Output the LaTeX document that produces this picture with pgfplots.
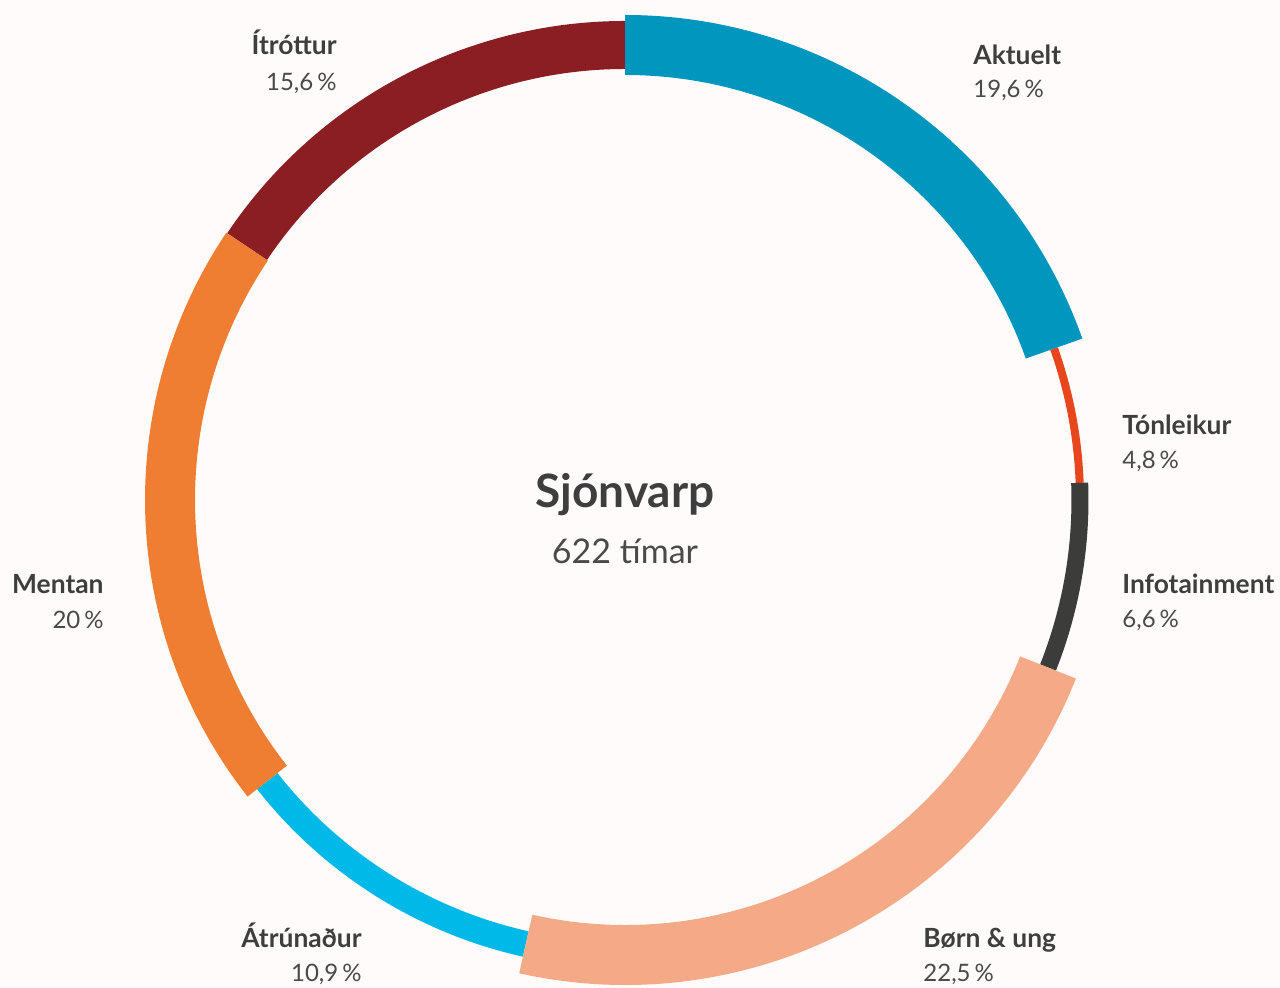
\documentclass[border=0pt]{standalone}
\usepackage{pgfplots}
\pgfplotsset{compat=1.18}
\usepackage{fontspec}
\setmainfont{Lato}
\definecolor{bg}{HTML}{FFFBFA}
\definecolor{txt}{HTML}{3E3E3E}
\definecolor{txtl}{HTML}{4A4A4A}
\definecolor{cAkt}{HTML}{0096BE}
\definecolor{cTon}{HTML}{E8461C}
\definecolor{cInf}{HTML}{3C3C3A}
\definecolor{cBorn}{HTML}{F4AA87}
\definecolor{cAtr}{HTML}{00B9E9}
\definecolor{cMen}{HTML}{EF7E32}
\definecolor{cItr}{HTML}{8B1E22}
% #1 colour, #2 cumulative start (percent), #3 share (percent), #4 ring width (axis units)
\newcommand\seg[4]{%
  \pgfmathsetmacro\aA{90-3.6*#2}%
  \pgfmathsetmacro\aB{90-3.6*(#2+#3)}%
  \pgfmathsetmacro\rO{(455+#4/2)*0.5}%
  \pgfmathsetmacro\rI{(455-#4/2)*0.5}%
  \pgfmathsetmacro\rW{#4*0.5}%
  \edef\tmp{\noexpand\fill[#1] (axis cs:625,488) ++(\aA:\rO pt)
    arc[start angle=\aA,end angle=\aB,radius=\rO pt]
    -- ++(\aB+180:\rW pt)
    arc[start angle=\aB,end angle=\aA,radius=\rI pt] -- cycle;}%
  \tmp}
\begin{document}
\begin{tikzpicture}
\begin{axis}[
  x=0.5pt, y=0.5pt,
  xmin=0, xmax=1280, ymin=0, ymax=988,
  hide axis, clip=false,
  scale only axis,
]
\fill[bg] (axis cs:0,0) rectangle (axis cs:1280,988);
\coordinate (BL) at (axis cs:0,0);
\coordinate (TR) at (axis cs:1280,988);
% shares: Aktuelt 19.6, Tonleikur 4.8, Infotainment 6.6, Born 22.5, Atrunadur 10.9, Mentan 20, Itrottur 15.6
\seg{cTon}{19.6}{4.8}{8}
\seg{cInf}{24.4}{6.6}{17}
\seg{cAtr}{53.5}{10.9}{26}
\seg{cItr}{84.4}{15.6}{48}
\seg{cMen}{64.4}{20}{50}
\seg{cAkt}{0}{19.6}{60}
\seg{cBorn}{31.0}{22.5}{60}
% centre
\node[overlay, anchor=base, font=\fontsize{23}{26}\selectfont\bfseries, text=txt, inner sep=0pt] at (axis cs:625,480) {Sjónvarp};
\node[overlay, anchor=base, font=\fontsize{17}{20}\selectfont, text=txtl, inner sep=0pt] at (axis cs:625,424) {622 tímar};
% labels
\tikzset{lb/.style={overlay, font=\fontsize{13.2}{15}\selectfont\bfseries, text=txt, inner sep=0pt},
         lp/.style={overlay, font=\fontsize{12}{14}\selectfont, text=txtl, inner sep=0pt}}
\node[lb, anchor=base west] at (axis cs:973,923) {Aktuelt};
\node[lp, anchor=base west] at (axis cs:973,890) {19,6\,\%};
\node[lb, anchor=base west] at (axis cs:1122,553) {Tónleikur};
\node[lp, anchor=base west] at (axis cs:1122,519) {4,8\,\%};
\node[lb, anchor=base west] at (axis cs:1122,394) {Infotainment};
\node[lp, anchor=base west] at (axis cs:1122,360) {6,6\,\%};
\node[lb, anchor=base west] at (axis cs:923,40) {Børn \& ung};
\node[lp, anchor=base west] at (axis cs:923,6) {22,5\,\%};
\node[lb, anchor=base east] at (axis cs:362,40) {Átrúnaður};
\node[lp, anchor=base east] at (axis cs:362,6) {10,9\,\%};
\node[lb, anchor=base east] at (axis cs:104,394) {Mentan};
\node[lp, anchor=base east] at (axis cs:104,359) {20\,\%};
\node[lb, anchor=base east] at (axis cs:337,933) {Ítróttur};
\node[lp, anchor=base east] at (axis cs:337,897) {15,6\,\%};
\end{axis}
\pgfresetboundingbox
\path[use as bounding box] (BL) rectangle (TR);
\end{tikzpicture}
\end{document}
